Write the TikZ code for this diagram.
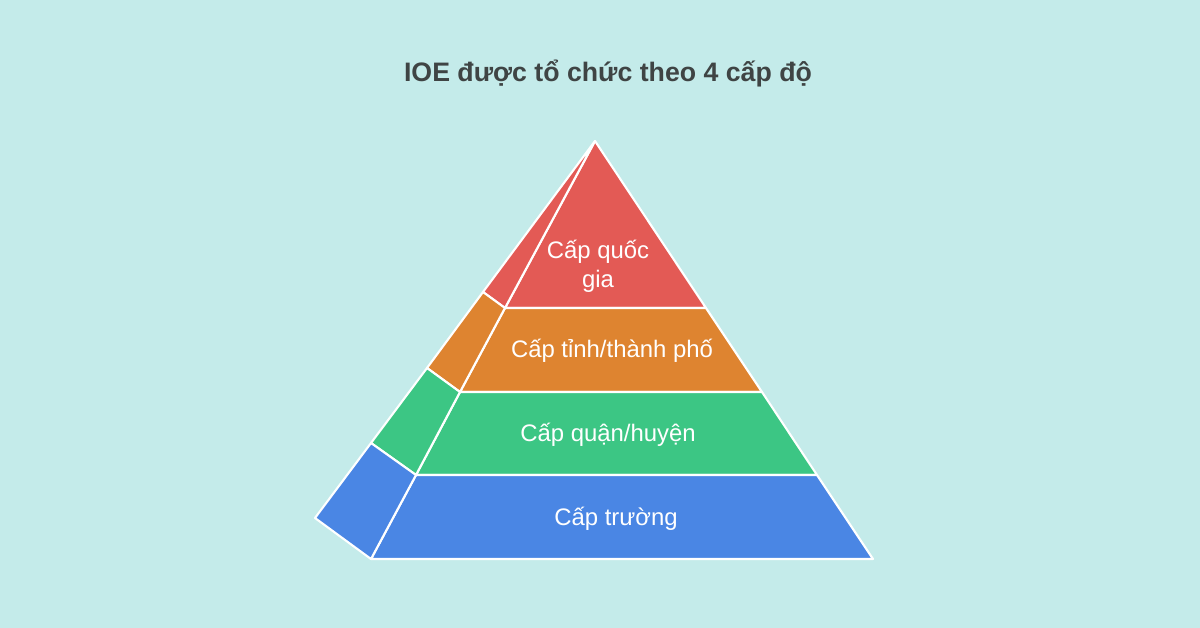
\documentclass[tikz,border=0pt]{standalone}
\usepackage{fontspec}
\setmainfont{Liberation Sans}
\usepackage{tikz}

\definecolor{bgcol}{HTML}{C4EBEA}
\definecolor{redlvl}{HTML}{E35A55}
\definecolor{orangelvl}{HTML}{DE8430}
\definecolor{greenlvl}{HTML}{3CC684}
\definecolor{bluelvl}{HTML}{4A86E4}
\definecolor{titlecol}{HTML}{3F4444}

\begin{document}
\begin{tikzpicture}[x=0.02cm, y=-0.02cm,
		face/.style={draw=white, line width=1.2pt, line join=round},
		lvltext/.style={text=white, align=center, font=\fontsize{13.6}{16.4}\selectfont}
	]

	\fill[bgcol] (0,0) rectangle (1200,628);

	\node[text=titlecol, font=\fontsize{15.2}{18}\selectfont\bfseries] (title) at (608,73) {IOE được tổ chức theo 4 cấp độ};

	% front corners
	\coordinate (apex) at (595,141);
	\coordinate (fl1) at (505,308);
	\coordinate (fr1) at (706,308);
	\coordinate (fl2) at (460,392);
	\coordinate (fr2) at (762,392);
	\coordinate (fl3) at (416,475);
	\coordinate (fr3) at (817,475);
	\coordinate (fl4) at (371,559);
	\coordinate (fr4) at (873,559);
	% back corners
	\coordinate (bl1) at (483,292);
	\coordinate (bl2) at (427,368);
	\coordinate (bl3) at (371,443);
	\coordinate (bl4) at (315,518);

	\filldraw[face, fill=redlvl] (apex) -- (fl1) -- (fr1) -- cycle;
	\filldraw[face, fill=redlvl] (apex) -- (bl1) -- (fl1) -- cycle;

	\filldraw[face, fill=orangelvl] (fl1) -- (fr1) -- (fr2) -- (fl2) -- cycle;
	\filldraw[face, fill=orangelvl] (bl1) -- (fl1) -- (fl2) -- (bl2) -- cycle;

	\filldraw[face, fill=greenlvl] (fl2) -- (fr2) -- (fr3) -- (fl3) -- cycle;
	\filldraw[face, fill=greenlvl] (bl2) -- (fl2) -- (fl3) -- (bl3) -- cycle;

	\filldraw[face, fill=bluelvl] (fl3) -- (fr3) -- (fr4) -- (fl4) -- cycle;
	\filldraw[face, fill=bluelvl] (bl3) -- (fl3) -- (fl4) -- (bl4) -- cycle;

	\node[lvltext] (national) at (598,266) {Cấp quốc\\gia};
	\node[lvltext] (province) at (612,351) {Cấp tỉnh/thành phố};
	\node[lvltext] (district) at (608,435) {Cấp quận/huyện};
	\node[lvltext] (school) at (616,519) {Cấp trường};
\end{tikzpicture}
\end{document}
